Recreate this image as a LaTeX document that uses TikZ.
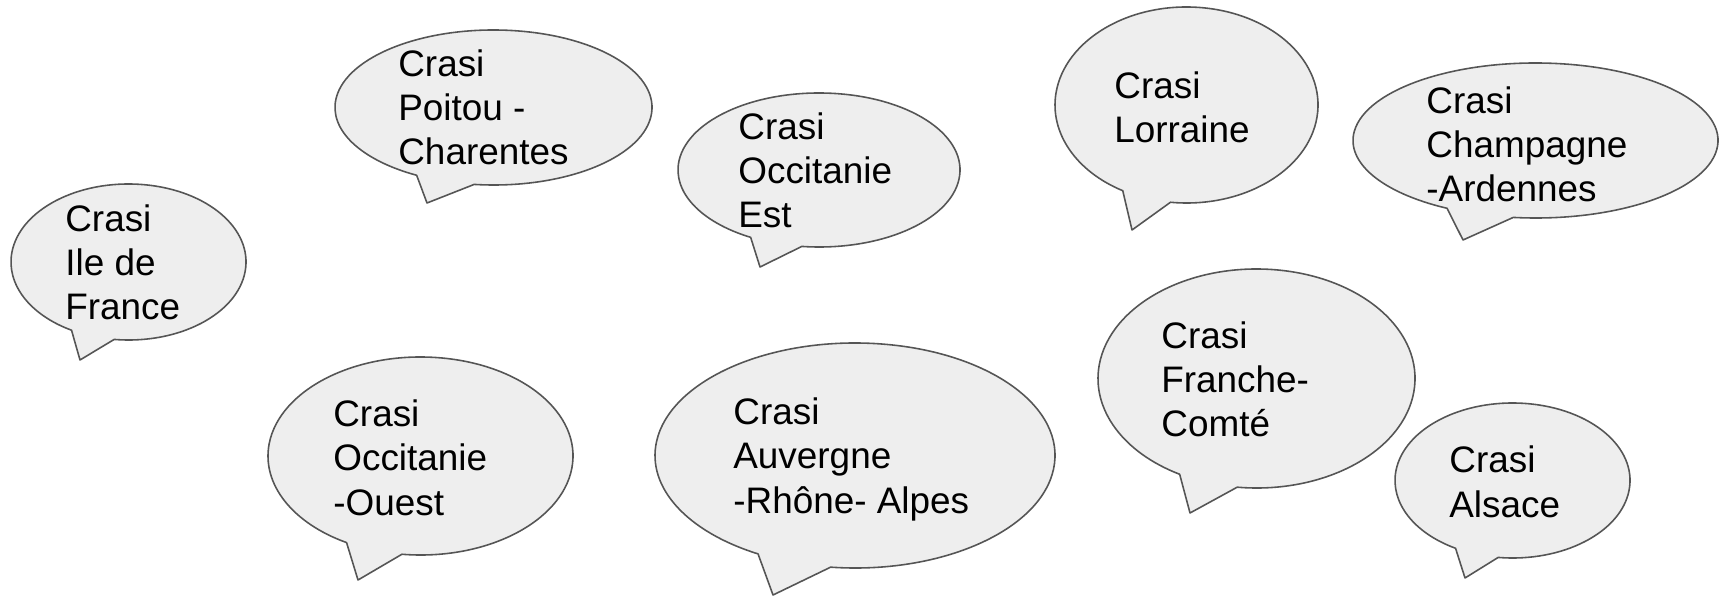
\documentclass[tikz,border=0pt]{standalone}
\usepackage{fontspec}
\setmainfont{Liberation Sans}
\definecolor{bubblefill}{HTML}{EEEEEE}
\definecolor{bubbleline}{HTML}{555555}
\tikzset{
  bubble/.style={fill=bubblefill, draw=bubbleline, line width=0.9pt, line join=round},
  bubbletext/.style={anchor=base west, align=left, inner sep=0pt,
    font=\fontsize{21}{25.3}\selectfont}
}
\begin{document}
\begin{tikzpicture}[x=0.02cm, y=0.02cm]
\useasboundingbox (0,0) rectangle (1719,-597);
% name / centre / radii / tip / last baseline / text
\foreach \n/\cx/\cy/\rx/\ry/\tx/\ty/\lx/\ly/\txt in {
  idf/128.5/262/117.5/78/80/360/65/320/{Crasi\\Ile de\\France},
  poitou/493.5/107.5/158.5/77.5/427/203/398/165/{Crasi\\Poitou -\\Charentes},
  occest/819/170/141/77/760/267/738/228/{Crasi\\Occitanie\\Est},
  lorraine/1186.5/105/131.5/98/1132/230/1114/143/{Crasi\\Lorraine},
  champagne/1535.5/140.5/182.5/77.5/1463/240/1426/202/{Crasi\\Champagne\\-Ardennes},
  occouest/420.5/456/152.5/99/358/580/333/515/{Crasi\\Occitanie\\-Ouest},
  aura/855/455.5/200/112.5/773/595/733/513/{Crasi\\Auvergne\\-Rhône- Alpes},
  franche/1256.5/378.5/158.5/109.5/1190/513/1161/437/{Crasi\\Franche-\\Comté},
  alsace/1512.5/480.5/117.5/77.5/1465/578/1449/517/{Crasi\\Alsace}}
{
  \coordinate (\n) at (\cx,-\cy);
  \coordinate (\n-tip) at (\tx,-\ty);
  \draw[bubble] (\n) ++(263:{\rx} and {\ry})
    arc[start angle=263, end angle=601, x radius=\rx, y radius=\ry]
    -- (\n-tip) -- cycle;
  \node[bubbletext] (\n-label) at (\lx,-\ly) {\txt};
}
\end{tikzpicture}
\end{document}
